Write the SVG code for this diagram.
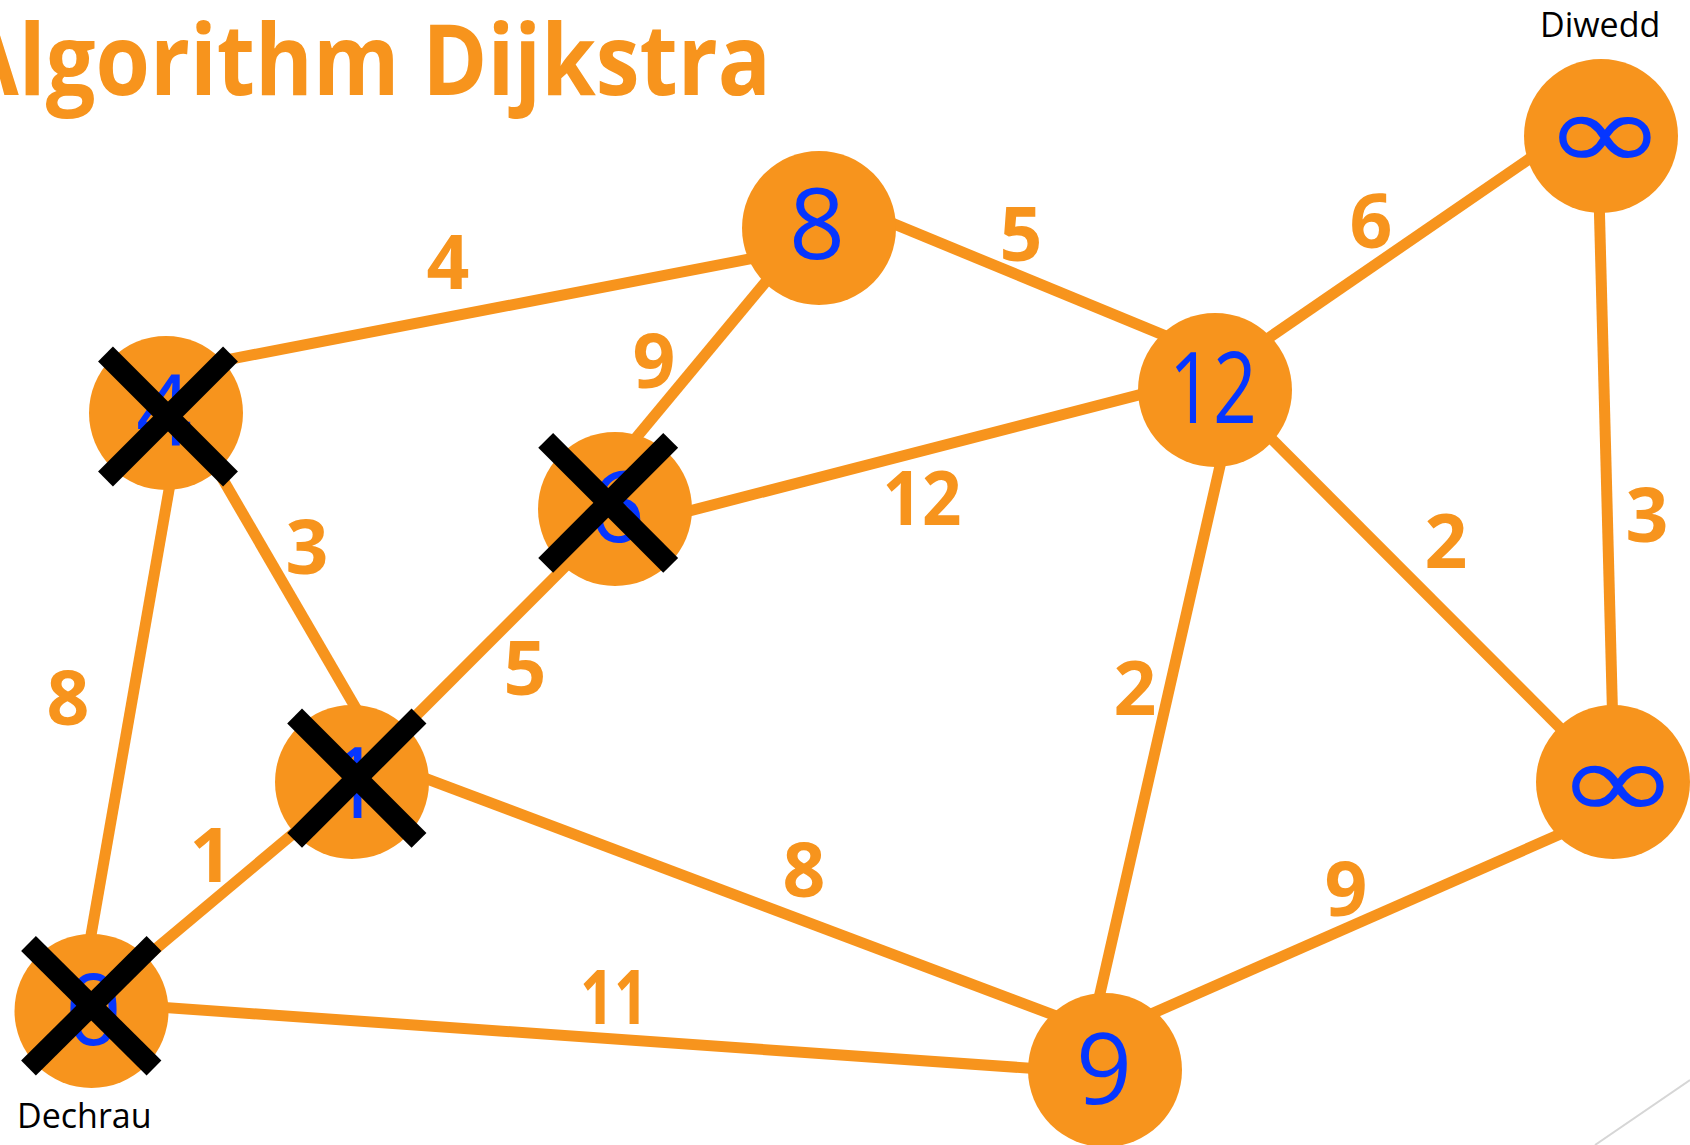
<svg xmlns="http://www.w3.org/2000/svg" width="1690" height="1145" viewBox="0 0 1690 1145">
<style>
.edge{stroke:#F7941D;stroke-width:11;stroke-linecap:butt;fill:none}
.node{fill:#F7941D}
.val{font-family:"Open Sans","DejaVu Sans",sans-serif;font-size:98px;fill:#0536FF;text-anchor:middle}
.inf{font-family:"DejaVu Sans",sans-serif;font-size:148px;fill:#0536FF;text-anchor:middle}
.w{font-family:"Open Sans","DejaVu Sans",sans-serif;font-weight:700;font-size:75px;fill:#F7941D;text-anchor:middle}
.cap{font-family:"Open Sans","DejaVu Sans",sans-serif;font-size:34px;fill:#000}
.x{stroke:#000;stroke-width:21;stroke-linecap:butt}
</style>
<rect width="1690" height="1145" fill="#fff"/>
<text x="-42" y="95" font-family="'Open Sans','DejaVu Sans',sans-serif" font-weight="700" font-size="98" fill="#F7941D" textLength="813" lengthAdjust="spacingAndGlyphs">Algorithm Dijkstra</text>
<line x1="1595" y1="1145" x2="1690" y2="1080" stroke="#D6D6D6" stroke-width="2"/>
<g id="connectors">
<line class="edge" x1="204.8" y1="364.1" x2="786.8" y2="251.8"/>
<line class="edge" x1="851.5" y1="206.4" x2="1196.4" y2="348.6"/>
<line class="edge" x1="792.2" y1="250" x2="625.1" y2="451"/>
<line class="edge" x1="199.4" y1="439.1" x2="366.5" y2="726.4"/>
<line class="edge" x1="175.5" y1="452.7" x2="84.9" y2="970"/>
<line class="edge" x1="657.5" y1="519.2" x2="1185.6" y2="382.8"/>
<line class="edge" x1="592.8" y1="538.9" x2="377.2" y2="754.5"/>
<line class="edge" x1="334.1" y1="799.4" x2="118.6" y2="980"/>
<line class="edge" x1="398.8" y1="768.3" x2="1088.6" y2="1028.2"/>
<line class="edge" x1="129.3" y1="1005" x2="1067" y2="1070.8"/>
<line class="edge" x1="1227.9" y1="431.1" x2="1093.1" y2="1023.9"/>
<line class="edge" x1="1250.2" y1="417.5" x2="1584.4" y2="752.3"/>
<line class="edge" x1="1239.5" y1="358" x2="1562.8" y2="135.8"/>
<line class="edge" x1="1598.4" y1="172.4" x2="1613.3" y2="743.7"/>
<line class="edge" x1="1595.1" y1="818.8" x2="1120.9" y2="1027.3"/>
</g>
<g id="weights">
<text class="w" x="448" y="289">4</text>
<text class="w" x="1021" y="261">5</text>
<text class="w" x="1371" y="248">6</text>
<text class="w" x="654" y="388">9</text>
<text class="w" x="307" y="574">3</text>
<text class="w" x="922" y="525" textLength="79" lengthAdjust="spacingAndGlyphs">12</text>
<text class="w" x="1446" y="568">2</text>
<text class="w" x="1647" y="542">3</text>
<text class="w" x="68" y="725">8</text>
<text class="w" x="525" y="695">5</text>
<text class="w" x="1135" y="715">2</text>
<text class="w" x="211" y="882">1</text>
<text class="w" x="804" y="897">8</text>
<text class="w" x="614" y="1024" textLength="68" lengthAdjust="spacingAndGlyphs">11</text>
<text class="w" x="1346" y="916">9</text>
</g>
<g id="node-a">
<circle class="node" cx="166" cy="413" r="77"/>
<text class="val" x="164" y="445">4</text>
<line class="x" x1="105.5" y1="354" x2="230.5" y2="479"/>
<line class="x" x1="230.5" y1="354" x2="105.5" y2="479"/>
</g>
<g id="node-b">
<circle class="node" cx="819" cy="228" r="77"/>
<text class="val" x="817" y="259">8</text>
</g>
<g id="node-c">
<circle class="node" cx="615" cy="509" r="77"/>
<text class="val" x="617" y="542">6</text>
<line class="x" x1="545.7" y1="440.3" x2="670.7" y2="565.3"/>
<line class="x" x1="670.7" y1="440.3" x2="545.7" y2="565.3"/>
</g>
<g id="node-d">
<circle class="node" cx="1215" cy="390" r="77"/>
<text class="val" x="1213" y="423" textLength="88" lengthAdjust="spacingAndGlyphs">12</text>
</g>
<g id="node-e">
<circle class="node" cx="1601" cy="136" r="77"/>
<text class="inf" transform="translate(1605,135) scale(1,0.74)" x="0" y="47">∞</text>
<text class="cap" x="1540" y="37">Diwedd</text>
</g>
<g id="node-f">
<circle class="node" cx="1613" cy="782" r="77"/>
<text class="inf" transform="translate(1618,784) scale(1,0.74)" x="0" y="47">∞</text>
</g>
<g id="node-g">
<circle class="node" cx="352" cy="782" r="77"/>
<text class="val" x="355" y="818">1</text>
<line class="x" x1="294.6" y1="716" x2="419" y2="840.4"/>
<line class="x" x1="419" y1="716" x2="294.6" y2="840.4"/>
</g>
<g id="node-h">
<circle class="node" cx="1105" cy="1070" r="77"/>
<text class="val" x="1104" y="1104">9</text>
</g>
<g id="node-i">
<circle class="node" cx="91.5" cy="1011" r="77"/>
<text class="val" x="93.5" y="1045">0</text>
<line class="x" x1="28.5" y1="943.5" x2="154" y2="1068"/>
<line class="x" x1="154" y1="943.5" x2="28.5" y2="1068"/>
<text class="cap" x="17" y="1128">Dechrau</text>
</g>
</svg>
